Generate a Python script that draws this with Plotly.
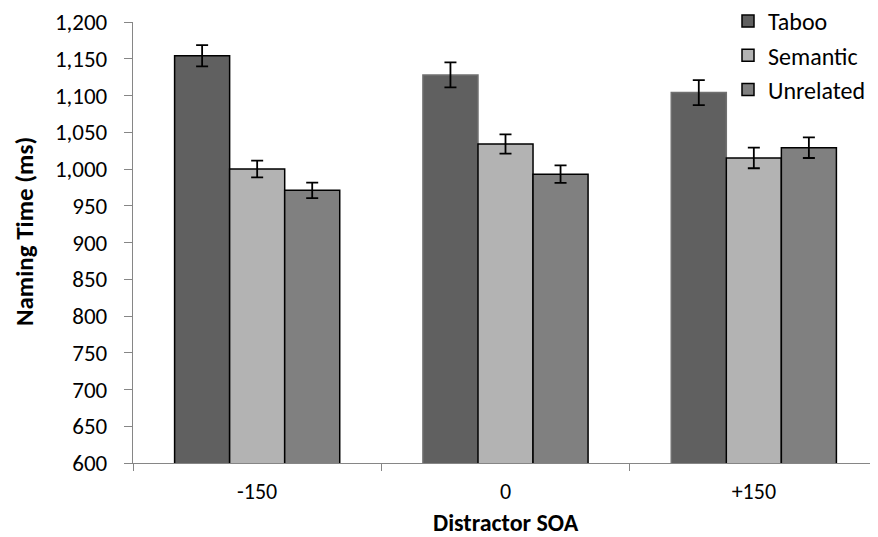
import plotly.graph_objects as go

categories = ["-150", "0", "+150"]
series_names = ["Taboo", "Semantic", "Unrelated"]
taboo = [1154, 1128, 1104]
semantic = [1000, 1034, 1015]
unrelated = [971, 993, 1029]
taboo_err = [14.5, 17, 17]
semantic_err = [11.5, 13, 14]
unrelated_err = [10.5, 12, 14]
y_ticks = list(range(600, 1201, 50))

values = [taboo, semantic, unrelated]
errors = [taboo_err, semantic_err, unrelated_err]
colors = ["#606060", "#b3b3b3", "#808080"]
line_colors = [["#000000", "#707070", "#707070"], "#000000", "#000000"]

FONT = "Carlito, Calibri, Lato, sans-serif"

# The page adds an 8px body margin, so the figure is laid out in a 870x529 box.
W, H = 870, 529
L, T, B, R = 125, 14, 74, 0
pw = W - L - R
ph = H - T - B

fig = go.Figure()
for name, vals, errs, col, lc in zip(series_names, values, errors, colors, line_colors):
    fig.add_trace(go.Bar(
        name=name, x=categories, y=vals, legendgroup=name,
        marker=dict(color=col, line=dict(color=lc, width=1.5)),
        error_y=dict(type="data", array=errs, visible=True,
                     color="black", thickness=1.8, width=6),
    ))

fig.update_layout(
    width=W, height=H,
    margin=dict(l=L, r=R, t=T, b=B, autoexpand=False),
    paper_bgcolor="white", plot_bgcolor="white",
    barmode="group", bargap=0.335, bargroupgap=0,
    font=dict(family=FONT, size=23, color="black"),
    showlegend=True,
    legend=dict(x=(720 - L) / pw, y=1 + 23 / ph, xanchor="left", yanchor="top",
                bgcolor="rgba(0,0,0,0)", font=dict(size=24),
                tracegroupgap=0, itemwidth=30),
    xaxis=dict(
        type="category", showline=True, linecolor="#868686", linewidth=1.3,
        ticks="outside", tickson="boundaries", ticklen=7, tickcolor="#868686",
        tickwidth=1.3, ticklabelstandoff=8, showgrid=False,
        tickfont=dict(size=22),
    ),
    yaxis=dict(
        range=[600, 1200], tickvals=y_ticks, tickformat=",",
        showline=True, linecolor="#868686", linewidth=1.3,
        ticks="outside", ticklen=8, tickcolor="#868686", tickwidth=1.3,
        ticklabelstandoff=12, showgrid=False, zeroline=False,
    ),
    annotations=[
        dict(text="<b>Naming Time (ms)</b>", x=(16 - L) / pw, y=(H - B - 224) / ph,
             xref="paper", yref="paper",
             textangle=-90, showarrow=False, font=dict(size=25),
             xanchor="center", yanchor="middle"),
        dict(text="<b>Distractor SOA</b>", x=0.5, y=(H - B - 514) / ph,
             xref="paper", yref="paper",
             showarrow=False, font=dict(size=24), xanchor="center", yanchor="middle"),
    ],
)

fig.write_html("out.html")
